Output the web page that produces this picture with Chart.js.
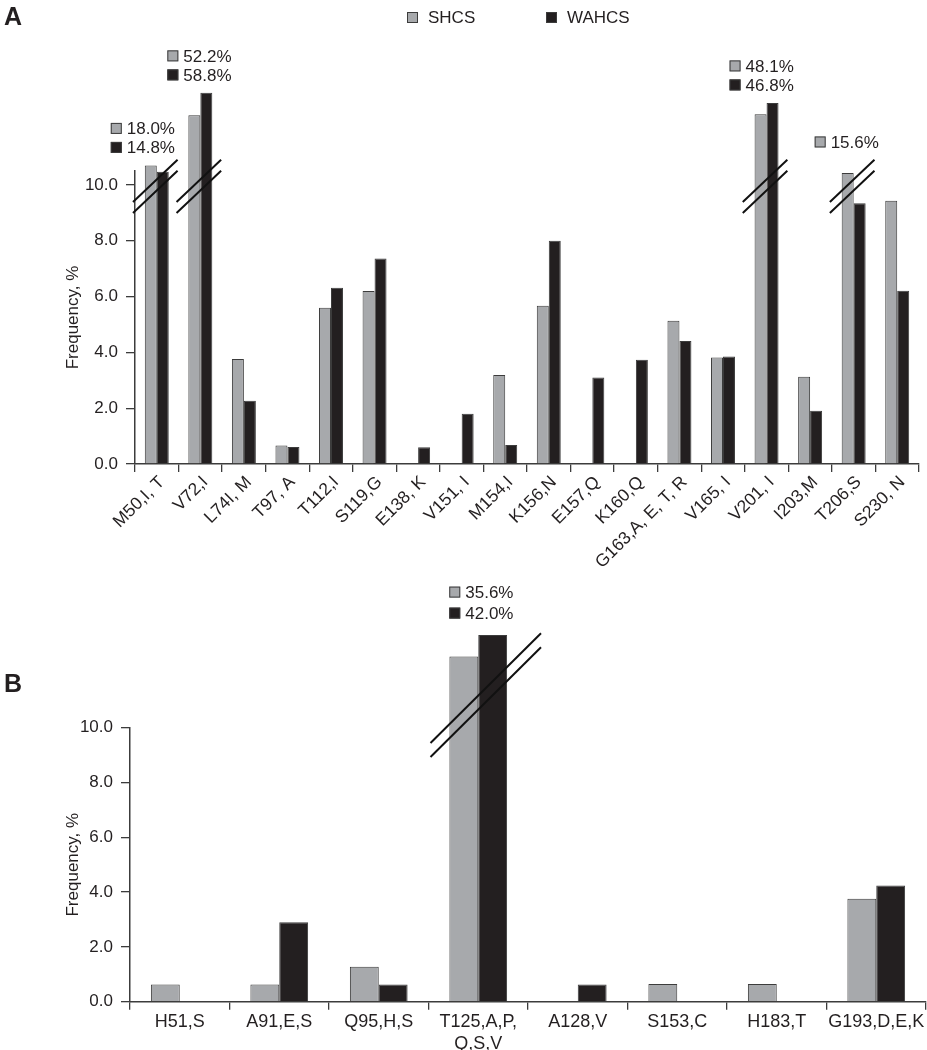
<!DOCTYPE html>
<html>
<head>
<meta charset="utf-8">
<title>Mutation frequency</title>
<script src="https://cdn.jsdelivr.net/npm/chart.js@4.4.1/dist/chart.umd.min.js"></script>
<style>
  body { margin: 0; background: #fff; }
  .wrap { position: relative; width: 927px; height: 1050px; }
  .panel { position: absolute; left: 0; width: 927px; }
  #boxA { top: 0; height: 600px; }
  #boxB { top: 560px; height: 490px; }
  .tag { position: absolute; left: 4px; font: bold 25px "Liberation Sans", Arial, sans-serif; color: #231f20; }
</style>
</head>
<body>
<div class="wrap">
  <div class="panel" id="boxA"><canvas id="chartA"></canvas></div>
  <div class="panel" id="boxB"><canvas id="chartB"></canvas></div>
  <div class="tag" style="top:2px">A</div>
  <div class="tag" style="top:669px">B</div>
</div>
<script>
// series
const seriesNames = ['SHCS', 'WAHCS'];

// panel A
const mutationsA = ['M50,I, T', 'V72,I', 'L74I, M', 'T97, A', 'T112,I', 'S119,G', 'E138, K', 'V151, I',
  'M154,I', 'K156,N', 'E157,Q', 'K160,Q', 'G163,A, E, T, R', 'V165, I', 'V201, I', 'I203,M', 'T206,S', 'S230, N'];
const shcsA  = [10.7, 12.5, 3.76, 0.66, 5.6, 6.2, 0, 0, 3.19, 5.67, 0, 0, 5.13, 3.82, 12.53, 3.13, 10.43, 9.43];
const wahcsA = [10.47, 13.3, 2.27, 0.61, 6.32, 7.36, 0.6, 1.8, 0.68, 8.0, 3.1, 3.74, 4.41, 3.85, 12.94, 1.91, 9.34, 6.21];
// bars cut by a break, with their true values
const brokenA = [0, 1, 14, 16];
const trueShcsA  = ['18.0%', '52.2%', '48.1%', '15.6%'];
const trueWahcsA = ['14.8%', '58.8%', '46.8%', null];

// panel B
const mutationsB = ['H51,S', 'A91,E,S', 'Q95,H,S', ['T125,A,P,', 'Q,S,V'], 'A128,V', 'S153,C', 'H183,T', 'G193,D,E,K'];
const shcsB  = [0.63, 0.63, 1.28, 12.6, 0, 0.65, 0.65, 3.76];
const wahcsB = [0, 2.9, 0.63, 13.38, 0.63, 0, 0, 4.24];
const brokenB = [3];
const trueShcsB  = ['35.6%'];
const trueWahcsB = ['42.0%'];

const yTicks = [0, 2, 4, 6, 8, 10];

const FONT = '"Liberation Sans", Arial, Helvetica, sans-serif';
const INK = '#231f20';
const GRAY = '#a7a9ac';
const EDGE = '#3c3c3c';

Chart.defaults.font.family = FONT;
Chart.defaults.color = INK;

// double slash over cut bars
const breakMarks = {
  id: 'breakMarks',
  afterDatasetsDraw(chart, args, opts) {
    const {ctx, scales: {x, y}} = chart;
    const half = (x.getPixelForValue(1) - x.getPixelForValue(0)) / 2;
    ctx.save();
    ctx.strokeStyle = '#111';
    ctx.lineWidth = 2;
    opts.marks.forEach(i => {
      const cx = x.getPixelForValue(i);
      const x0 = cx - half - opts.padL, x1 = cx + half + opts.padR;
      const y0 = y.getPixelForValue(opts.low), y1 = y.getPixelForValue(opts.high);
      [0, opts.gap].forEach(g => {
        ctx.beginPath();
        ctx.moveTo(x0, y0 + g);
        ctx.lineTo(x1, y1 + g);
        ctx.stroke();
      });
    });
    ctx.restore();
  }
};

// little key boxes with the true values above cut bars
const cutNotes = {
  id: 'cutNotes',
  afterDatasetsDraw(chart, args, opts) {
    const {ctx, scales: {x, y}} = chart;
    const d = chart.data.datasets;
    ctx.save();
    ctx.font = '17px ' + FONT;
    ctx.textBaseline = 'middle';
    opts.marks.forEach((i, k) => {
      const rows = [[GRAY, opts.gray[k]], [INK, opts.black[k]]].filter(r => r[1]);
      const top = Math.min(y.getPixelForValue(d[0].data[i]), y.getPixelForValue(d[1].data[i]));
      const lift = rows.length === 1 ? opts.liftSingle : opts.lift;
      const bx = x.getPixelForValue(i) + opts.dx[k];
      rows.forEach((r, j) => {
        const cy = top - lift - (rows.length - 1 - j) * opts.rowGap;
        ctx.fillStyle = r[0];
        ctx.fillRect(bx, cy - 5.5, 11, 11);
        ctx.strokeStyle = EDGE;
        ctx.lineWidth = 1;
        ctx.strokeRect(bx + 0.5, cy - 5, 10, 10);
        ctx.fillStyle = INK;
        ctx.fillText(r[1], bx + 16, cy + 1);
      });
    });
    ctx.restore();
  }
};

// top key
const keyRow = {
  id: 'keyRow',
  afterDraw(chart, args, opts) {
    if (!opts.show) return;
    const {ctx, chartArea} = chart;
    const startX = (chartArea.left + chartArea.right) / 2 - 120;
    ctx.save();
    ctx.font = '17px ' + FONT;
    ctx.textBaseline = 'middle';
    [GRAY, INK].forEach((c, k) => {
      const bx = startX + k * 139;
      ctx.fillStyle = c;
      ctx.fillRect(bx, 12, 11, 11);
      ctx.strokeStyle = EDGE;
      ctx.strokeRect(bx + 0.5, 12.5, 10, 10);
      ctx.fillStyle = INK;
      ctx.fillText(seriesNames[k], bx + 21, 18);
    });
    ctx.restore();
  }
};

function bars(shcs, wahcs, catPct) {
  return [shcs, wahcs].map((vals, k) => ({
    label: seriesNames[k],
    data: vals,
    backgroundColor: k === 0 ? GRAY : INK,
    borderColor: EDGE,
    borderWidth: 1,
    borderSkipped: 'bottom',
    categoryPercentage: catPct,
    barPercentage: 1,
    clip: false
  }));
}

function options(p) {
  return {
    responsive: true,
    maintainAspectRatio: false,
    animation: false,
    layout: {padding: {top: p.top, right: p.right, left: 0, bottom: 0}},
    plugins: {
      legend: {display: false},
      tooltip: {enabled: false},
      breakMarks: p.breaks,
      cutNotes: p.notes,
      keyRow: {show: p.key}
    },
    scales: {
      x: {
        grid: {offset: true, drawOnChartArea: false, tickLength: 8, color: EDGE, lineWidth: 1.3},
        border: {color: EDGE, width: 1.5},
        ticks: {
          autoSkip: false, maxRotation: p.rot, minRotation: p.rot,
          font: {size: p.xFont}, padding: p.xPad, labelOffset: p.xShift, color: INK
        },
        afterFit: s => { s.height = p.xHeight; }
      },
      y: {
        min: 0, max: p.ymax,
        afterBuildTicks: s => { s.ticks = yTicks.map(v => ({value: v})); },
        grid: {drawOnChartArea: false, tickLength: 9, color: EDGE, lineWidth: 1.3},
        border: {color: EDGE, width: 1.5},
        ticks: {callback: v => v.toFixed(1), font: {size: 17}, padding: 8, color: INK},
        title: {display: true, text: 'Frequency, %', font: {size: 17}, color: INK, padding: {top: p.titlePad, bottom: 0}},
        afterFit: s => { s.width = p.yWidth; }
      }
    }
  };
}

new Chart(document.getElementById('chartA'), {
  type: 'bar',
  data: {labels: mutationsA, datasets: bars(shcsA, wahcsA, 0.55)},
  options: options({
    top: 171, right: 8, yWidth: 135, xHeight: 136, ymax: 10.5,
    rot: 45, xFont: 17.5, xPad: 0, xShift: 5, titlePad: 63, key: true,
    breaks: {marks: brokenA, low: 9.39, high: 10.9, gap: 11, padL: 2, padR: -1},
    notes: {marks: brokenA, gray: trueShcsA, black: trueWahcsA, dx: [-46, -33, -37, -39], lift: 18, liftSingle: 31, rowGap: 19}
  }),
  plugins: [breakMarks, cutNotes, keyRow]
});

new Chart(document.getElementById('chartB'), {
  type: 'bar',
  data: {labels: mutationsB, datasets: bars(shcsB, wahcsB, 0.58)},
  options: options({
    top: 167.7, right: 1, yWidth: 130, xHeight: 48.3, ymax: 10,
    rot: 0, xFont: 18, xPad: 2, xShift: 0, titlePad: 63, key: false,
    breaks: {marks: brokenB, low: 9.44, high: 13.45, gap: 14, padL: -2, padR: 13},
    notes: {marks: brokenB, gray: trueShcsB, black: trueWahcsB, dx: [-29], lift: 22, liftSingle: 22, rowGap: 21}
  }),
  plugins: [breakMarks, cutNotes, keyRow]
});
</script>
</body>
</html>
